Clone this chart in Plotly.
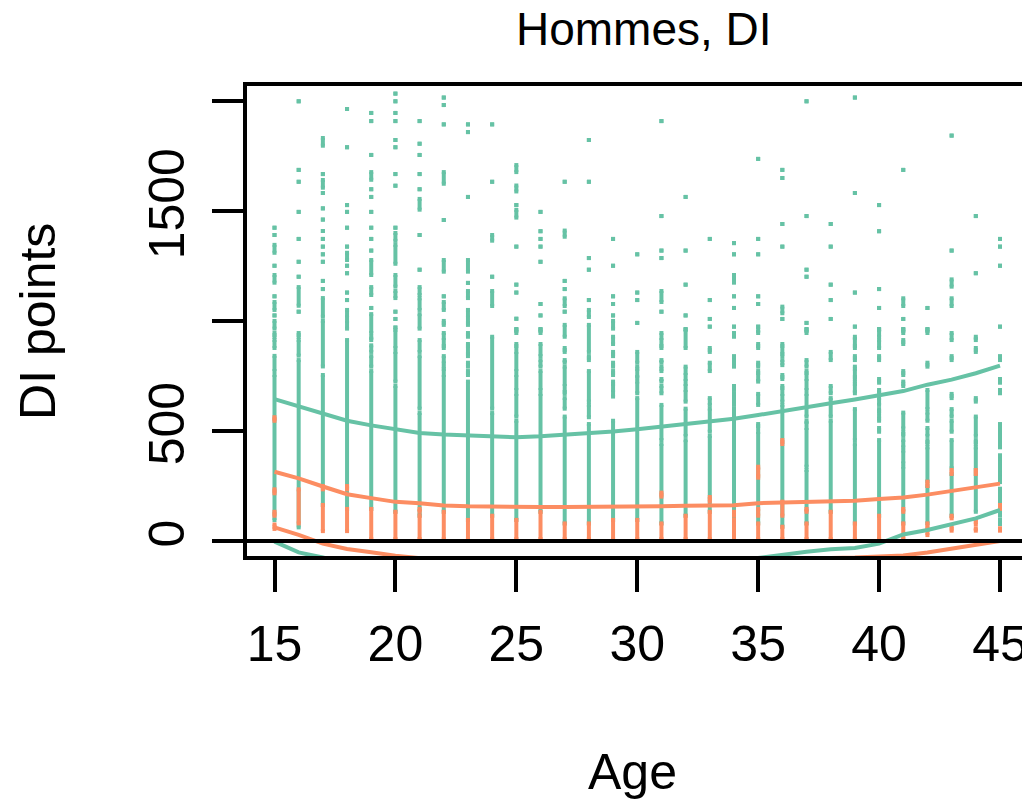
import plotly.graph_objects as go

GREEN = "#66C2A5"
ORANGE = "#FC8D62"
FONT = "Liberation Sans, Arial, sans-serif"

ages = list(range(15, 46))

# Fitted band limits per age (DI points)
green_upper = [645, 612, 578, 547, 526, 507, 491, 484, 479, 474, 472, 476, 482, 489, 498,
               508, 520, 530, 541, 556, 573, 592, 610, 627, 644, 661, 682, 711, 734, 763, 798]
green_lower = [-3, -52, -75, -103, -124, -143, -159, -166, -171, -176, -178, -174, -168, -161, -152,
               -142, -130, -120, -109, -94, -77, -62, -49, -38, -32, -12, 30, 50, 75, 103, 141]
orange_upper = [315, 285, 248, 213, 195, 178, 172, 162, 158, 156, 155, 155, 155, 155, 156,
                157, 158, 160, 161, 163, 172, 174, 175, 177, 183, 191, 198, 211, 228, 245, 261]
orange_lower = [62, 28, -12, -36, -51, -67, -78, -88, -92, -94, -95, -95, -95, -95, -94,
                -93, -92, -90, -89, -87, -84, -82, -81, -79, -75, -70, -66, -52, -36, -18, 0]

# Observed DI points per age, stored as (low, high) spans; equal ends are single observations
green_points = [
    [(1425, 1425), (1392, 1392), (1311, 1347), (1252, 1252), (1175, 1210), (1113, 1113), (1051, 1087),
     (1026, 1026), (966, 1001), (928, 946), (878, 914), (773, 842), (95, 755)],
    [(2000, 2000), (1688, 1688), (1634, 1634), (1497, 1497), (1374, 1374), (1270, 1270), (1202, 1202),
     (1070, 1155), (1043, 1043), (928, 946), (843, 914), (62, 823)],
    [(1798, 1833), (1669, 1669), (1607, 1642), (1583, 1583), (1513, 1513), (1462, 1462), (1410, 1410),
     (1374, 1374), (1339, 1339), (1304, 1304), (1270, 1270), (1183, 1183), (1146, 1146), (1020, 1105),
     (794, 1001), (164, 755)],
    [(1965, 1965), (1791, 1791), (1528, 1528), (1497, 1497), (1425, 1425), (1339, 1339), (1278, 1311),
     (1252, 1252), (1218, 1218), (1130, 1130), (1096, 1096), (1017, 1051), (966, 1001), (146, 914)],
    [(1947, 1947), (1910, 1910), (1756, 1756), (1643, 1678), (1600, 1600), (1565, 1565), (1497, 1497),
     (1425, 1425), (1374, 1374), (1321, 1321), (1210, 1278), (1119, 1155), (1060, 1060), (946, 1032),
     (914, 929), (860, 890), (793, 841), (146, 773)],
    [(2035, 2035), (2000, 2000), (1947, 1947), (1910, 1910), (1824, 1824), (1791, 1791), (1669, 1669),
     (1616, 1616), (1425, 1425), (1365, 1401), (1261, 1347), (1157, 1210), (1105, 1137), (1043, 1043),
     (1010, 1010), (971, 971), (878, 960), (725, 860), (133, 705)],
    [(1910, 1910), (1807, 1807), (1756, 1756), (1669, 1669), (1600, 1600), (1507, 1556), (1392, 1392),
     (1234, 1234), (1119, 1155), (1051, 1104), (966, 1032), (860, 914), (602, 841), (115, 582)],
    [(2017, 2017), (1983, 1983), (1895, 1895), (1625, 1678), (1460, 1460), (1225, 1278), (1113, 1113),
     (1051, 1087), (983, 1001), (914, 946), (878, 896), (808, 841), (773, 793), (133, 755)],
    [(1895, 1895), (1860, 1860), (1565, 1565), (1225, 1278), (1174, 1174), (1105, 1137), (1017, 1051),
     (983, 1001), (929, 946), (878, 896), (841, 860), (793, 811), (755, 773), (96, 725)],
    [(1895, 1895), (1634, 1634), (1366, 1392), (1202, 1202), (1069, 1137), (602, 929), (115, 582)],
    [(1678, 1710), (1590, 1617), (1528, 1528), (1471, 1506), (1339, 1339), (1166, 1166), (1130, 1130),
     (1011, 1011), (964, 964), (946, 960), (878, 896), (773, 860), (687, 755), (566, 669), (96, 547)],
    [(1497, 1497), (1409, 1409), (1374, 1374), (1339, 1339), (1270, 1270), (1078, 1078), (1026, 1026),
     (964, 964), (946, 960), (841, 896), (793, 823), (687, 773), (133, 669)],
    [(1634, 1634), (1384, 1412), (1183, 1183), (1146, 1146), (1069, 1104), (1043, 1043), (929, 983),
     (860, 878), (811, 823), (705, 793), (669, 687), (602, 650), (80, 566)],
    [(1824, 1824), (1634, 1634), (1287, 1287), (1234, 1234), (1096, 1096), (1019, 1051), (860, 983),
     (823, 841), (634, 773), (563, 619), (80, 532)],
    [(1374, 1374), (1252, 1252), (1113, 1113), (1078, 1078), (1026, 1026), (966, 1001), (896, 929),
     (841, 860), (793, 811), (755, 773), (705, 725), (657, 687), (96, 547)],
    [(1304, 1304), (1130, 1130), (1096, 1096), (992, 992), (811, 860), (773, 793), (740, 755),
     (672, 725), (96, 650)],
    [(1910, 1910), (1478, 1478), (1321, 1321), (1287, 1287), (1087, 1137), (1043, 1043), (914, 946),
     (878, 896), (811, 823), (773, 793), (725, 737), (672, 705), (459, 619), (80, 441)],
    [(1565, 1565), (1321, 1321), (1166, 1166), (1026, 1026), (964, 964), (878, 960), (755, 793),
     (705, 737), (634, 687), (478, 602), (115, 459)],
    [(1374, 1374), (1096, 1096), (1010, 1010), (975, 975), (860, 878), (773, 811), (619, 650),
     (497, 602), (133, 478)],
    [(1355, 1355), (1304, 1304), (1175, 1210), (1113, 1113), (1060, 1060), (975, 975), (929, 946),
     (793, 841), (687, 705), (619, 669), (96, 602)],
    [(1738, 1738), (1374, 1374), (1304, 1304), (1113, 1113), (1078, 1078), (975, 975), (946, 960),
     (878, 896), (793, 811), (755, 773), (725, 737), (619, 669), (514, 532), (80, 496)],
    [(1688, 1688), (1651, 1651), (1442, 1442), (1339, 1339), (1036, 1066), (1010, 1010), (878, 896),
     (841, 860), (800, 823), (737, 755), (687, 705), (634, 669), (65, 619)],
    [(2000, 2000), (1478, 1478), (1234, 1234), (1202, 1202), (992, 992), (964, 964), (946, 960),
     (793, 823), (755, 773), (687, 737), (566, 669), (532, 547), (338, 514), (80, 323)],
    [(1442, 1442), (1339, 1339), (1166, 1166), (1096, 1096), (1010, 1010), (823, 860), (672, 705),
     (566, 650), (133, 547)],
    [(2017, 2017), (1583, 1583), (1130, 1130), (975, 975), (914, 929), (878, 896), (823, 841),
     (773, 793), (737, 755), (705, 725), (672, 687), (459, 600), (80, 441)],
    [(1528, 1528), (1409, 1409), (1146, 1146), (1060, 1060), (964, 964), (929, 960), (878, 914),
     (823, 841), (720, 737), (672, 687), (619, 650), (581, 600), (547, 566), (497, 514), (115, 459)],
    [(1688, 1688), (1069, 1104), (1010, 1010), (964, 964), (946, 960), (896, 914), (755, 773),
     (705, 725), (512, 584), (478, 496), (426, 459), (353, 411), (80, 338)],
    [(1060, 1060), (964, 964), (946, 960), (793, 811), (600, 687), (547, 584), (478, 514), (441, 459),
     (270, 426), (80, 250)],
    [(1844, 1844), (1321, 1321), (1157, 1190), (1069, 1104), (914, 946), (823, 841), (650, 669),
     (566, 600), (497, 547), (331, 459), (115, 305)],
    [(1478, 1478), (1218, 1218), (914, 929), (860, 878), (634, 650), (478, 566), (441, 459),
     (323, 426), (133, 305)],
    [(1374, 1374), (1339, 1339), (1252, 1252), (975, 975), (823, 841), (720, 737), (672, 687),
     (426, 532), (373, 390), (323, 356), (268, 305), (164, 238), (115, 146), (77, 96)],
]

orange_points = [
    [(547, 563), (217, 235), (115, 133), (55, 75)],
    [(80, 235)],
    [(235, 250), (45, 164)],
    [(235, 250), (45, 146)],
    [(9, 146)],
    [(9, 133)],
    [(133, 146), (9, 115)],
    [(9, 133)],
    [(9, 96)],
    [(9, 115)],
    [(9, 96)],
    [(9, 133)],
    [(9, 80)],
    [(9, 80)],
    [(9, 96)],
    [(9, 96)],
    [(202, 220), (9, 80)],
    [(9, 115)],
    [(180, 200), (9, 133)],
    [(115, 133), (9, 96)],
    [(323, 338), (288, 305), (115, 146), (9, 80)],
    [(441, 459), (115, 179), (9, 65)],
    [(133, 146), (9, 80)],
    [(9, 133)],
    [(9, 80)],
    [(9, 115)],
    [(133, 146), (9, 80)],
    [(250, 270), (58, 80), (27, 50)],
    [(305, 323), (103, 115), (47, 65)],
    [(305, 323), (77, 96), (47, 58)],
    [(146, 164), (47, 58)],
]


def point_columns(spans_by_age, color):
    xs, ys = [], []
    for age, spans in zip(ages, spans_by_age):
        for lo, hi in spans:
            xs += [age, age, None]
            ys += [lo, hi, None]
    return go.Scatter(
        x=xs, y=ys, mode="lines+markers",
        line=dict(color=color, width=4),
        marker=dict(symbol="square", size=4, color=color, line=dict(width=0)),
        hoverinfo="skip", showlegend=False,
    )


def band_line(values, color):
    return go.Scatter(x=ages, y=values, mode="lines",
                      line=dict(color=color, width=4),
                      hoverinfo="skip", showlegend=False)


fig = go.Figure()
fig.add_trace(point_columns(green_points, GREEN))
fig.add_trace(point_columns(orange_points, ORANGE))
fig.add_trace(band_line(green_upper, GREEN))
fig.add_trace(band_line(green_lower, GREEN))
fig.add_trace(band_line(orange_upper, ORANGE))
fig.add_trace(band_line(orange_lower, ORANGE))

fig.add_hline(y=0, line_color="black", line_width=4, layer="above")

axis_common = dict(
    showgrid=False, zeroline=False, showline=True, linecolor="black", linewidth=4,
    ticks="outside", tickwidth=4, tickcolor="black", ticklabeloverflow="allow",
    automargin=False,
    tickfont=dict(family=FONT, size=50, color="black"),
)

fig.update_xaxes(
    range=[13.863, 45.91], tickvals=[15, 20, 25, 30, 35, 40, 45],
    ticklen=32, mirror=True, ticklabelstandoff=9, **axis_common,
)
fig.update_yaxes(
    range=[-68.2, 2069.6], tickvals=[0, 500, 1000, 1500, 2000],
    ticktext=["0", "500", "", "1500", ""], tickangle=-90,
    ticklen=31, ticklabelstandoff=8, **axis_common,
)

fig.add_annotation(text="Age", xref="paper", yref="paper", x=0.498, y=-0.46,
                   showarrow=False, xanchor="center", yanchor="middle",
                   font=dict(family=FONT, size=50, color="black"))
fig.add_annotation(text="DI points", xref="paper", yref="paper", x=-0.2697, y=0.5,
                   textangle=-90, showarrow=False, xanchor="center", yanchor="middle",
                   font=dict(family=FONT, size=50, color="black"))

fig.update_layout(
    width=1022, height=801,
    margin=dict(l=247, r=0, t=86, b=245, pad=0),
    paper_bgcolor="white", plot_bgcolor="white",
    title=dict(text="Hommes, DI", x=0.512, xref="paper", xanchor="center",
               y=1 - 28.5 / 801, yref="container", yanchor="middle",
               font=dict(family=FONT, size=46, color="black")),
)

fig.write_html("out.html")
